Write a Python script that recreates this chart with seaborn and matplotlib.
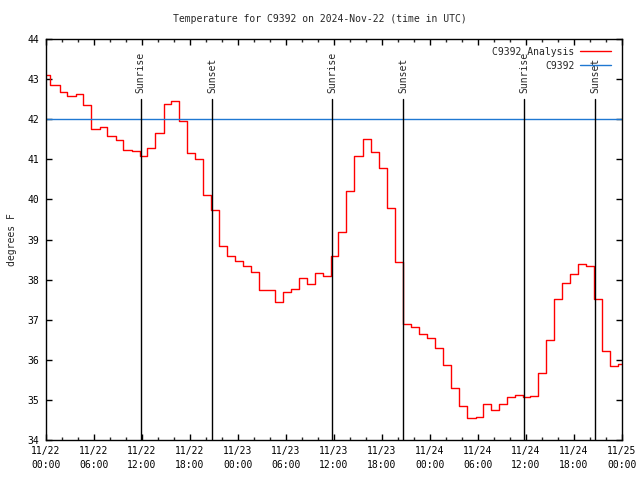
import matplotlib
matplotlib.use("Agg")
import matplotlib.pyplot as plt
import seaborn as sns
import pandas as pd

# ---- data (hours since 11/22 00:00 UTC) ----
hours = [0.0, 0.5, 1.7, 2.6, 3.7, 4.6, 5.6, 6.7, 7.6, 8.7, 9.6, 10.7, 11.7, 12.6, 13.6,
         14.7, 15.6, 16.6, 17.6, 18.6, 19.6, 20.6, 21.6, 22.6, 23.6, 24.6, 25.6, 26.6,
         27.6, 28.6, 29.6, 30.6, 31.6, 32.6, 33.6, 34.6, 35.6, 36.5, 37.5, 38.5, 39.6,
         40.6, 41.6, 42.6, 43.6, 44.65, 45.6, 46.6, 47.6, 48.6, 49.6, 50.6, 51.6, 52.6,
         53.7, 54.6, 55.6, 56.6, 57.6, 58.6, 59.6, 60.5, 61.5, 62.5, 63.5, 64.5, 65.5,
         66.5, 67.5, 68.5, 69.5, 70.5, 71.5]
temps = [43.10, 42.85, 42.68, 42.58, 42.63, 42.36, 41.75, 41.81, 41.57, 41.48, 41.23,
         41.20, 41.08, 41.27, 41.66, 42.38, 42.45, 41.95, 41.16, 41.00, 40.10, 39.74,
         38.84, 38.59, 38.47, 38.35, 38.20, 37.73, 37.73, 37.43, 37.68, 37.77, 38.03,
         37.89, 38.17, 38.09, 38.60, 39.18, 40.20, 41.08, 41.50, 41.17, 40.78, 39.78,
         38.43, 36.89, 36.81, 36.64, 36.55, 36.29, 35.86, 35.30, 34.86, 34.55, 34.57,
         34.91, 34.75, 34.91, 35.06, 35.11, 35.07, 35.10, 35.66, 36.49, 37.51, 37.91,
         38.14, 38.38, 38.35, 37.51, 36.22, 35.85, 35.90]
end_hour = 72.0
obs_hours = [0.0, 72.0]
obs_temps = [42.0, 42.0]
sunrise_hours = [11.83, 35.8, 59.8]
sunset_hours = [20.75, 44.63, 68.67]
xtick_hours = [0, 6, 12, 18, 24, 30, 36, 42, 48, 54, 60, 66, 72]
xtick_labels = ["11/22\n00:00", "11/22\n06:00", "11/22\n12:00", "11/22\n18:00",
                "11/23\n00:00", "11/23\n06:00", "11/23\n12:00", "11/23\n18:00",
                "11/24\n00:00", "11/24\n06:00", "11/24\n12:00", "11/24\n18:00",
                "11/25\n00:00"]
ytick_values = [34, 35, 36, 37, 38, 39, 40, 41, 42, 43, 44]

sns.set_style("ticks")
plt.rcParams['font.family'] = ['DejaVu Sans Mono']
FS = 7

fig = plt.figure(figsize=(6.4, 4.8), dpi=100)
ax = fig.add_axes([46/640, 40/480, 576/640, 401/480])

df = pd.DataFrame({'hour': hours + [end_hour], 'temp': temps + [temps[-1]]})
sns.lineplot(data=df, x='hour', y='temp', ax=ax, color='#ff0000', lw=1.0,
             drawstyle='steps-post', label='C9392 Analysis')
df_obs = pd.DataFrame({'hour': obs_hours, 'temp': obs_temps})
sns.lineplot(data=df_obs, x='hour', y='temp', ax=ax, color='#1f78d2', lw=1.0,
             label='C9392')

for h in sunrise_hours:
    ax.plot([h, h], [34, 42.5], color='black', lw=1.0)
    ax.text(h, 42.65, 'Sunrise', rotation=90, ha='center', va='bottom', fontsize=FS)
for h in sunset_hours:
    ax.plot([h, h], [34, 42.5], color='black', lw=1.0)
    ax.text(h, 42.65, 'Sunset', rotation=90, ha='center', va='bottom', fontsize=FS)

ax.set_xlim(0, 72)
ax.set_ylim(34, 44)
ax.set_xticks(xtick_hours)
ax.set_xticklabels(xtick_labels)
ax.set_xticks(list(range(0, 73, 2)), minor=True)
ax.set_yticks(ytick_values)
ax.set_xlabel('')
ax.set_ylabel('')
for lab in ax.get_xticklabels():
    lab.set_linespacing(1.5)
ax.tick_params(axis='both', which='major', direction='in', length=4, width=1,
               top=True, right=True, labelsize=FS, colors='black')
ax.tick_params(axis='x', which='minor', direction='in', length=2.5, width=1,
               top=True, bottom=True)
ax.tick_params(axis='x', which='major', pad=4)
ax.tick_params(axis='y', which='major', pad=5)
for s in ax.spines.values():
    s.set_linewidth(1)
    s.set_color('black')

leg = ax.legend(loc='upper right', bbox_to_anchor=(0.995, 1.0), frameon=False,
                markerfirst=False, fontsize=FS, handlelength=3.2, handletextpad=0.6,
                labelspacing=0.4, borderpad=0.3)

fig.text(0.5, 1 - 19/480, 'Temperature for C9392 on 2024-Nov-22 (time in UTC)',
         ha='center', va='center', fontsize=FS)
fig.text(12/640, 0.5, 'degrees F', rotation=90, ha='center', va='center', fontsize=FS)

fig.savefig('out.png', dpi=100)
